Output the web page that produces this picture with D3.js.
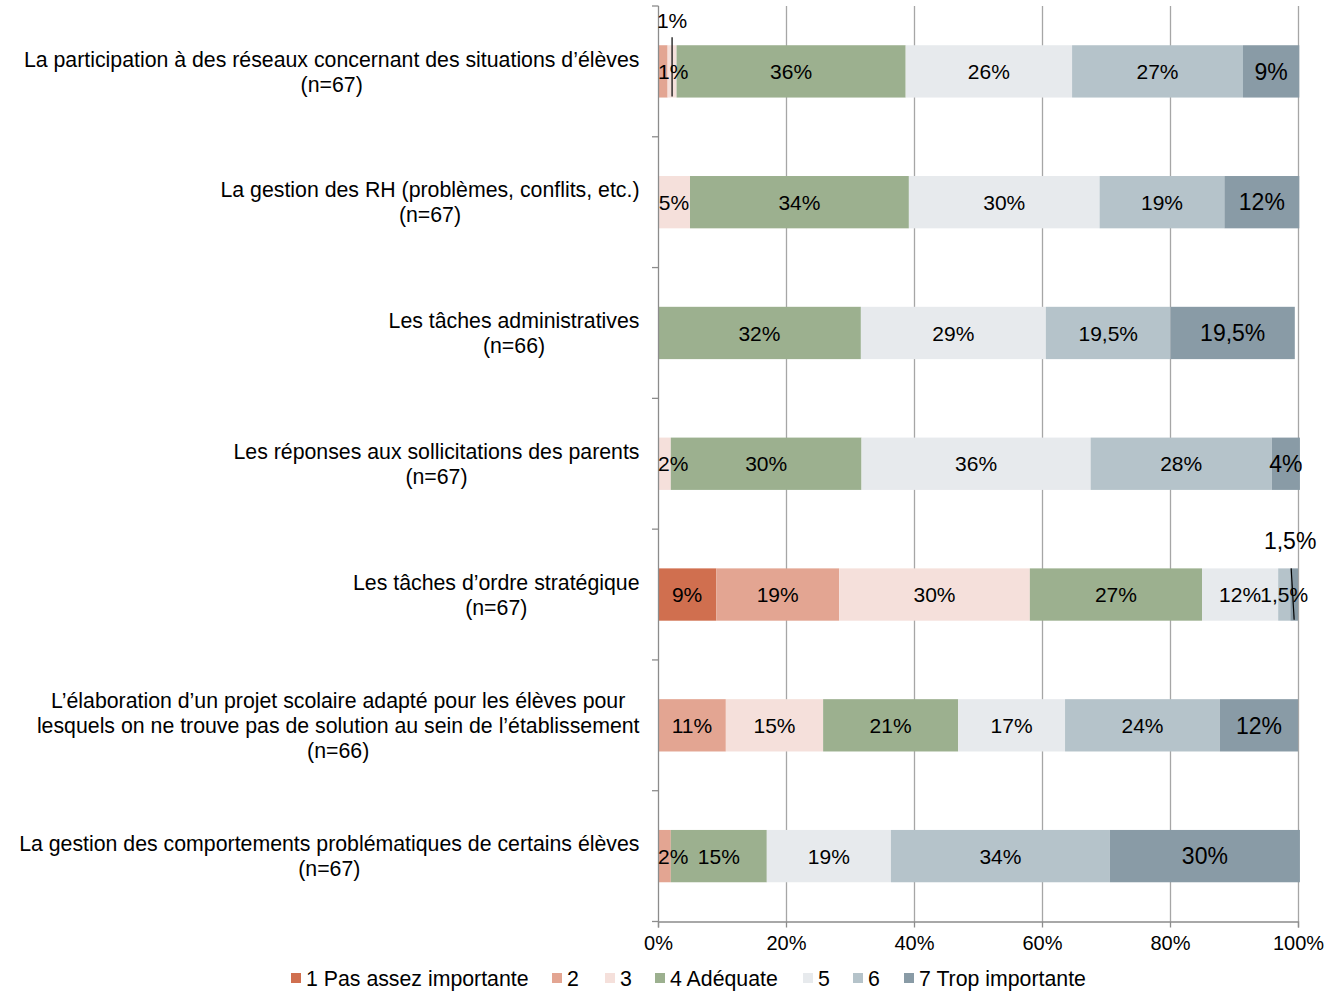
<!DOCTYPE html>
<html><head><meta charset="utf-8">
<script src="https://cdn.jsdelivr.net/npm/d3@7"></script>
<style>body{margin:0;background:#fff}svg{display:block}text{font-family:"Liberation Sans",Arial,sans-serif;fill:#000}</style>
</head><body>
<svg id="c" width="1328" height="992"></svg>
<script>
const categories = [
  ["La participation à des réseaux concernant des situations d’élèves","(n=67)"],
  ["La gestion des RH (problèmes, conflits, etc.)","(n=67)"],
  ["Les tâches administratives","(n=66)"],
  ["Les réponses aux sollicitations des parents","(n=67)"],
  ["Les tâches d’ordre stratégique","(n=67)"],
  ["L’élaboration d’un projet scolaire adapté pour les élèves pour","lesquels on ne trouve pas de solution au sein de l’établissement","(n=66)"],
  ["La gestion des comportements problématiques de certains élèves","(n=67)"]
];
const seriesNames = ["1 Pas assez importante","2","3","4 Adéquate","5","6","7 Trop importante"];
const seriesColors = ["#d06f4f","#e3a592","#f5e0db","#9cb08f","#e7eaed","#b5c3ca","#899ba6"];
const s1 = [0,0,0,0,9.1,0,0];
const s2 = [1.5,0,0,0,19.2,10.6,2];
const s3 = [1.4,5,0,2,29.8,15.2,0];
const s4 = [35.8,34.2,31.7,29.8,26.9,21.1,15];
const s5 = [26,29.8,28.9,35.8,11.9,16.7,19.4];
const s6 = [26.7,19.5,19.5,28.3,1.9,24.2,34.2];
const s7 = [8.8,11.7,19.4,4.4,1.2,12.2,29.7];
const l1 = ["","","","","9%","",""];
const l2 = ["1%","","","","19%","11%","2%"];
const l3 = ["1%","5%","","2%","30%","15%",""];
const l4 = ["36%","34%","32%","30%","27%","21%","15%"];
const l5 = ["26%","30%","29%","36%","12%","17%","19%"];
const l6 = ["27%","19%","19,5%","28%","1,5%","24%","34%"];
const l7 = ["9%","12%","19,5%","4%","1,5%","12%","30%"];
const callouts = [[0,2],[4,6]]; // [category index, series index] labelled above the bar
const xTicks = [0,20,40,60,80,100];

const values = [s1,s2,s3,s4,s5,s6,s7];
const labels = [l1,l2,l3,l4,l5,l6,l7];
const svg = d3.select("#c");
const x = d3.scaleLinear().domain([0,100]).range([658,1298]);
const y = d3.scaleBand().domain(d3.range(categories.length)).range([6,921.5]).paddingInner(0.6).paddingOuter(0.3);
const step = y.step();

// gridlines
svg.append("g").selectAll("line").data(xTicks.slice(1)).join("line")
  .attr("x1",d=>x(d)+0.5).attr("x2",d=>x(d)+0.5).attr("y1",6).attr("y2",921.5)
  .attr("stroke","#a6a6a6").attr("stroke-width",1.3);

// bars
const rows = categories.map((c,i)=>{
  let acc=0; return values.map((s,k)=>{const v=s[i]; const seg={i,k,x0:acc,x1:acc+v,v,label:labels[k][i]}; acc+=v; return seg;});
});
const segs = rows.flat().filter(d=>d.v>0);
svg.append("g").selectAll("rect").data(segs).join("rect")
  .attr("x",d=>x(d.x0)).attr("width",d=>x(d.x1)-x(d.x0))
  .attr("y",d=>y(d.i)).attr("height",y.bandwidth())
  .attr("fill",d=>seriesColors[d.k]);

// axes
const yAxis = svg.append("g");
yAxis.append("line").attr("x1",658.5).attr("x2",658.5).attr("y1",6).attr("y2",921.5).attr("stroke","#8c8c8c").attr("stroke-width",1.3);
yAxis.selectAll("line.t").data(d3.range(categories.length+1)).join("line").attr("class","t")
  .attr("x1",652).attr("x2",658.5).attr("y1",d=>6+d*step).attr("y2",d=>6+d*step).attr("stroke","#8c8c8c").attr("stroke-width",1.3);
const xAxis = svg.append("g").attr("transform","translate(0,921.5)")
  .call(d3.axisBottom(x).tickValues(xTicks).tickFormat(d=>d+"%").tickSize(6).tickPadding(8));
xAxis.select(".domain").attr("stroke","#8c8c8c").attr("stroke-width",1.3);
xAxis.selectAll(".tick line").attr("stroke","#8c8c8c").attr("stroke-width",1.3);
xAxis.selectAll(".tick text").attr("font-size",20).attr("font-family","Liberation Sans, Arial").attr("fill","#000");

// segment labels
const isCallout = d=>callouts.some(c=>c[0]===d.i&&c[1]===d.k);
const lg = svg.append("g");
segs.filter(d=>d.label && !isCallout(d)).forEach(d=>{
  const big = d.k===6;
  const t = lg.append("text").attr("font-size",big?23:21)
    .attr("font-family",big?"Lato, sans-serif":null)
    .attr("y",y(d.i)+y.bandwidth()/2).attr("dy","0.36em").text(d.label);
  const w = t.node().getComputedTextLength();
  const segW = x(d.x1)-x(d.x0);
  if (w>segW && d.x0===0) t.attr("x",x(d.x0)).attr("text-anchor","start");
  else t.attr("x",(x(d.x0)+x(d.x1))/2).attr("text-anchor","middle");
});
// callouts
segs.filter(d=>d.label && isCallout(d)).forEach(d=>{
  const cx=(x(d.x0)+x(d.x1))/2;
  const top=y(d.i);
  const isLast = d.k===6;
  lg.append("text").attr("x",isLast?cx-4:cx).attr("y",top-(isLast?19:17))
    .attr("text-anchor","middle").attr("font-size",isLast?23:21)
    .attr("font-family",isLast?"Lato, sans-serif":null).text(d.label);
  lg.append("line").attr("x1",isLast?cx-3:cx).attr("x2",cx).attr("y1",top-(isLast?0:8)).attr("y2",top+y.bandwidth()-1)
    .attr("stroke","#000").attr("stroke-width",1.2);
});

// category labels
const cg = svg.append("g");
categories.forEach((lines,i)=>{
  const cy = y(i)+y.bandwidth()/2;
  const lh = 25;
  const ts = lines.map((l,j)=>cg.append("text").attr("font-size",21.3).attr("text-anchor","middle")
    .attr("y",cy+(j-(lines.length-1)/2)*lh).attr("dy","0.36em").text(l));
  const W = d3.max(ts,t=>t.node().getComputedTextLength());
  ts.forEach(t=>t.attr("x",639.5-W/2));
});

// legend
const legX = [291,552,605,655,803,853,904];
const leg = svg.append("g");
seriesNames.forEach((n,k)=>{
  leg.append("rect").attr("x",legX[k]).attr("y",973).attr("width",10).attr("height",10).attr("fill",seriesColors[k]);
  leg.append("text").attr("x",legX[k]+15).attr("y",978).attr("dy","0.36em").attr("font-size",21.3).text(n);
});
</script>
</body></html>
